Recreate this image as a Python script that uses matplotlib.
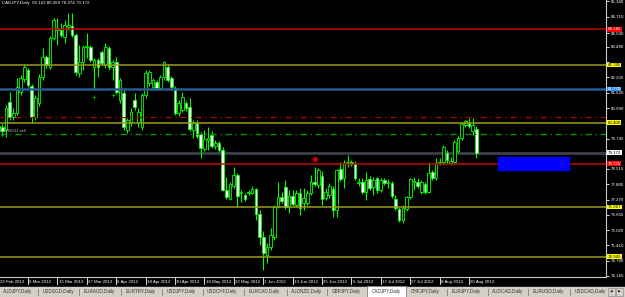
import numpy as np
import pandas as pd
import matplotlib
matplotlib.use('Agg')
import matplotlib.pyplot as plt
from matplotlib.patches import Rectangle
from matplotlib.transforms import blended_transform_factory

# CADJPY daily bars, one per weekday from 22 Feb 2012 to 22 Aug 2012
opens = [80.26, 80.22, 80.10, 81.24, 80.63, 80.79, 81.64, 82.17, 82.54, 81.89,
         80.63, 81.20, 82.25, 83.07, 82.66, 83.84, 84.16, 84.16, 83.88, 84.29,
         84.33, 83.96, 82.42, 82.86, 83.47, 83.47, 82.66, 82.94, 83.27, 82.74,
         83.43, 82.66, 82.86, 81.32, 81.60, 80.10, 80.38, 81.32, 80.38, 80.22,
         81.52, 82.01, 81.85, 82.05, 81.81, 82.25, 82.66, 82.21, 81.81, 80.79,
         80.91, 81.20, 81.03, 80.10, 80.38, 79.94, 79.33, 79.69, 79.90, 79.45,
         79.57, 79.29, 77.66, 77.29, 77.82, 78.27, 77.54, 77.46, 77.54, 77.54,
         77.70, 76.68, 75.75, 75.02, 75.34, 75.75, 76.97, 77.37, 77.78, 76.97,
         77.42, 77.05, 77.54, 77.13, 77.13, 77.54, 77.99, 77.86, 78.23, 77.33,
         77.46, 77.70, 76.85, 78.51, 78.15, 78.76, 78.80, 78.76, 77.95, 77.99,
         77.58, 78.11, 77.78, 78.15, 77.66, 78.07, 77.95, 77.95, 77.29, 76.89,
         76.44, 76.89, 77.37, 77.99, 77.99, 77.58, 77.90, 77.58, 78.39, 78.15,
         78.76, 78.80, 79.16, 78.76, 78.80, 79.25, 79.77, 80.30, 80.38, 80.06,
         80.122]
highs = [80.43, 80.34, 81.12, 81.64, 80.99, 82.21, 82.34, 82.78, 82.62, 81.97,
         81.52, 82.38, 83.43, 83.15, 83.92, 84.65, 84.65, 84.45, 84.57, 84.86,
         84.87, 84.04, 83.55, 83.55, 84.04, 83.55, 83.03, 83.03, 83.35, 83.64,
         83.51, 82.94, 83.07, 82.21, 81.73, 80.59, 80.99, 81.60, 80.99, 81.60,
         82.54, 82.54, 82.21, 82.13, 82.34, 82.90, 82.78, 82.29, 81.89, 81.32,
         81.64, 81.28, 81.40, 80.51, 80.51, 80.02, 80.10, 80.22, 80.06, 79.69,
         79.65, 79.41, 78.19, 77.99, 78.60, 78.35, 77.66, 77.54, 77.66, 77.82,
         77.74, 76.85, 75.99, 75.51, 76.12, 77.05, 77.99, 77.58, 78.07, 77.66,
         77.66, 77.66, 77.74, 77.74, 77.66, 78.27, 78.60, 78.55, 78.43, 77.74,
         77.95, 77.82, 78.51, 78.80, 78.88, 79.08, 78.88, 78.84, 78.15, 78.15,
         78.39, 78.23, 78.19, 78.19, 78.15, 78.15, 78.11, 78.03, 77.46, 76.97,
         77.05, 77.42, 78.15, 78.19, 78.15, 78.07, 77.99, 78.80, 78.47, 78.96,
         78.96, 79.49, 79.29, 79.00, 79.69, 79.85, 80.43, 80.51, 80.59, 80.59,
         80.269]
lows = [79.94, 79.85, 79.81, 80.51, 80.51, 80.71, 81.52, 82.05, 81.85, 80.38,
        80.51, 81.07, 82.13, 82.62, 82.58, 83.76, 83.55, 83.88, 83.64, 84.16,
        83.88, 82.34, 82.25, 82.54, 83.03, 82.86, 81.73, 82.25, 82.74, 82.62,
        82.54, 82.13, 81.56, 81.20, 80.10, 79.98, 80.26, 80.91, 80.22, 80.10,
        81.40, 81.89, 81.73, 81.73, 81.73, 82.13, 82.05, 81.73, 80.71, 80.67,
        80.83, 80.87, 80.06, 79.77, 79.77, 78.96, 79.25, 79.29, 79.37, 79.33,
        79.20, 77.62, 77.29, 77.25, 77.74, 76.97, 77.17, 77.21, 77.46, 77.50,
        76.44, 75.43, 74.41, 74.69, 75.22, 75.63, 76.93, 77.13, 76.89, 76.73,
        77.01, 76.97, 76.64, 76.85, 77.05, 77.46, 77.82, 77.74, 77.05, 77.25,
        77.33, 76.56, 76.56, 78.03, 77.74, 78.60, 78.64, 78.07, 77.82, 77.50,
        77.25, 77.66, 77.46, 77.54, 77.58, 77.86, 77.74, 77.33, 76.85, 76.36,
        76.32, 76.81, 77.29, 77.66, 77.74, 77.50, 77.50, 77.54, 78.07, 78.07,
        78.68, 78.72, 78.72, 78.68, 78.76, 79.16, 79.69, 80.22, 80.18, 79.90,
        78.974]
closes = [80.06, 80.06, 80.99, 80.63, 80.79, 81.85, 82.21, 82.66, 81.93, 80.63,
          81.40, 82.25, 83.07, 82.74, 83.84, 84.57, 84.25, 83.96, 84.37, 84.37,
          83.96, 82.46, 82.86, 83.47, 83.51, 82.94, 82.94, 82.66, 82.82, 83.47,
          82.66, 82.86, 81.64, 82.13, 80.22, 80.51, 80.83, 81.03, 80.83, 81.52,
          82.42, 82.46, 82.13, 81.81, 82.25, 82.86, 82.13, 81.85, 80.79, 81.20,
          81.44, 80.99, 80.14, 80.38, 79.85, 79.37, 79.73, 79.77, 79.45, 79.57,
          79.29, 77.66, 77.37, 77.90, 78.27, 77.42, 77.58, 77.29, 77.58, 77.70,
          76.68, 75.75, 75.10, 75.34, 75.83, 76.97, 77.37, 77.21, 76.97, 77.42,
          77.09, 77.54, 76.93, 77.33, 77.54, 77.99, 77.90, 78.47, 77.29, 77.58,
          77.82, 76.85, 78.47, 78.11, 78.76, 78.80, 78.72, 78.15, 77.99, 77.58,
          78.07, 77.74, 78.07, 77.66, 78.07, 77.95, 77.99, 77.42, 76.93, 76.44,
          76.93, 77.37, 78.11, 78.03, 77.82, 77.99, 77.58, 78.35, 78.15, 78.76,
          78.80, 79.41, 78.88, 78.84, 79.61, 79.77, 80.34, 80.47, 80.26, 80.30,
          79.172]

dates = pd.bdate_range('2012-02-22', '2012-08-22')
date_labels = ['22 Feb 2012', '5 Mar 2012', '15 Mar 2012', '27 Mar 2012', '6 Apr 2012',
               '18 Apr 2012', '30 Apr 2012', '10 May 2012', '22 May 2012', '1 Jun 2012',
               '13 Jun 2012', '25 Jun 2012', '5 Jul 2012', '17 Jul 2012', '27 Jul 2012',
               '8 Aug 2012', '20 Aug 2012']

price_ticks = [74.165, 74.780, 75.410, 76.025, 76.655, 77.270, 77.885, 78.515, 79.130,
               79.745, 80.375, 80.990, 81.620, 82.235, 82.850, 83.480, 84.040, 84.710, 85.340]
# tick labels that sit under a coloured price box on the reference
hidden_ticks = [79.130, 80.375, 82.850]

# horizontal lines drawn on the chart: price, colour, label box colour, label text colour
level_prices = [84.185, 82.745, 81.770, 80.400, 78.725, 76.967, 74.945]
level_colors = ['#c80000', '#9c9c1c', '#2a5a94', '#9c9c1c', '#c80000', '#9c9c1c', '#9c9c1c']
level_box = ['#ff0000', '#ffff00', '#2b95ff', '#ffff00', '#ff0000', '#ffff00', '#ffff00']
level_txt = ['white', 'black', 'white', 'black', 'white', 'black', 'black']
dashdot_prices = [80.63, 79.94]
dashdot_colors = ['#b00000', '#00a000']
bid = 79.172
order_text = '#0785211 sell'

tabs = ['AUDJPY,Daily', 'USDSGD,Daily', 'EURAUD,Daily', 'EURTRY,Daily', 'USDJPY,Daily',
        'USDCHF,Daily', 'EURCAD,Daily', 'AUDNZD,Daily', 'GBPJPY,Daily', 'CADJPY,Daily',
        'CHFJPY,Daily', 'EURJPY,Daily', 'AUDCAD,Daily', 'EURUSD,Daily', 'USDCAD,Daily']
tab_x = [3, 43, 84, 126, 167, 207, 249, 291, 332, 372, 411, 452, 492, 533, 575]
sep_x = [38, 79, 121, 162, 203, 244, 287, 327, 447, 488, 528, 570]

FONT = 'Liberation Sans'
FS = 3.2

o = np.array(opens); h = np.array(highs); l = np.array(lows); c = np.array(closes)
idx = np.arange(len(c))

W, H = 625, 297
fig = plt.figure(figsize=(W / 100, H / 100), dpi=100, facecolor='black')
ax = fig.add_axes([0, 20 / H, 606 / W, 277 / H])
ax.set_facecolor('black')

# candles
ax.vlines(idx, l, h, color='#00ff00', lw=0.8, zorder=4)
lo = np.minimum(o, c)
hh = np.maximum(np.abs(c - o), 0.02)
up = c >= o
ax.bar(idx[up], hh[up], bottom=lo[up], width=0.72, color='black',
       edgecolor='#00ff00', linewidth=0.6, zorder=5)
ax.bar(idx[~up], hh[~up], bottom=lo[~up], width=0.72, color='white',
       edgecolor='#00ff00', linewidth=0.6, zorder=5)

# levels
for p, col in zip(level_prices, level_colors):
    ax.axhline(p, color=col, lw=1.1 if col != '#2a5a94' else 1.8, zorder=6)
for p, col in zip(dashdot_prices, dashdot_colors):
    ax.axhline(p, color=col, lw=0.9, ls=(0, (5, 3, 1, 3)), zorder=6)
ax.axhline(bid, color='#3c4048', lw=2.0, zorder=3)

# blue zone
ax.add_patch(Rectangle((135.9, 78.47), 19.3, 0.53, color='#0000ff', zorder=7))

# trade markers
ax.plot([86.1], [78.92], marker='P', ms=3, color='#d00000', zorder=8, ls='none')
ax.plot([26, 31], [81.45, 81.52], marker='+', ms=2.5, mew=0.6, color='#00b000',
        zorder=8, ls='none')

ax.set_xlim(0.38, 165.28)
ax.set_ylim(74.124, 85.384)

# axes look
for s in ['top', 'left']:
    ax.spines[s].set_visible(False)
for s in ['right', 'bottom']:
    ax.spines[s].set_color('#c8c8c8')
    ax.spines[s].set_linewidth(0.8)

ax.yaxis.tick_right()
ax.set_yticks(price_ticks)
ax.set_yticklabels(['' if v in hidden_ticks else f'{v:.3f}' for v in price_ticks],
                   fontfamily=FONT)
ax.tick_params(axis='y', colors='white', labelsize=FS, length=2, width=0.6, pad=1.5)

pos = [dates.get_loc(pd.Timestamp(d)) for d in pd.to_datetime(date_labels, format='%d %b %Y')]
ax.set_xticks([])
trans = blended_transform_factory(ax.transData, ax.transAxes)
for p, lab in zip(pos, date_labels):
    ax.plot([p, p], [-0.005, -0.025], transform=trans, color='white', lw=0.6, clip_on=False)
    ax.text(p + 0.35, -0.012, lab, transform=trans, ha='left', va='top', color='white',
            fontsize=FS, fontfamily=FONT, clip_on=False)

# right side price boxes
rtrans = blended_transform_factory(ax.transAxes, ax.transData)
for p, fc, tc in zip(level_prices, level_box, level_txt):
    ax.text(1.003, p, f'{p:.3f}', transform=rtrans, ha='left', va='center', color=tc,
            fontsize=FS, fontfamily=FONT, clip_on=False, zorder=20,
            bbox=dict(boxstyle='square,pad=0.08', fc=fc, ec='none'))
ax.text(1.003, bid, f'{bid:.3f}', transform=rtrans, ha='left', va='center', color='black',
        fontsize=FS, fontfamily=FONT, clip_on=False, zorder=20,
        bbox=dict(boxstyle='square,pad=0.08', fc='white', ec='none'))

# header and order label
ax.text(0.003, 0.995, f'CADJPY,Daily  {o[-1]:.3f} {h[-1]:.3f} {l[-1]:.3f} {c[-1]:.3f}',
        transform=ax.transAxes, ha='left', va='top', color='white', fontsize=FS,
        fontfamily=FONT, zorder=20)
ax.text(0.002, dashdot_prices[1] + 0.04, order_text, transform=rtrans, ha='left',
        va='bottom', color='#c0c0c0', fontsize=FS * 0.9, fontfamily=FONT, zorder=20)

# tab bar
fig.patches.append(Rectangle((0, 0), 1, 10.5 / H, transform=fig.transFigure,
                             color='#d4d0c8', zorder=0))
fig.patches.append(Rectangle((367 / W, 0), 39 / W, 11 / H, transform=fig.transFigure,
                             fc='white', ec='#808080', lw=0.6, zorder=1))
for x, t in zip(tab_x, tabs):
    fig.text(x / W, 5.2 / H, t, ha='left', va='center', color='#303030',
             fontsize=3.3, fontfamily=FONT)
for x in sep_x:
    fig.add_artist(plt.Line2D([x / W, x / W], [2 / H, 8.5 / H], color='#808080', lw=0.6))
for x, g in [(608, '\u25c0'), (616, '\u25b6')]:
    fig.patches.append(Rectangle((x / W, 1 / H), 7 / W, 8.5 / H, transform=fig.transFigure,
                                 fc='#d4d0c8', ec='#909090', lw=0.5, zorder=1))
    fig.text((x + 3.5) / W, 5.2 / H, g, ha='center', va='center', color='black',
             fontsize=2.5)

fig.savefig('out.png', dpi=100, facecolor='black')
